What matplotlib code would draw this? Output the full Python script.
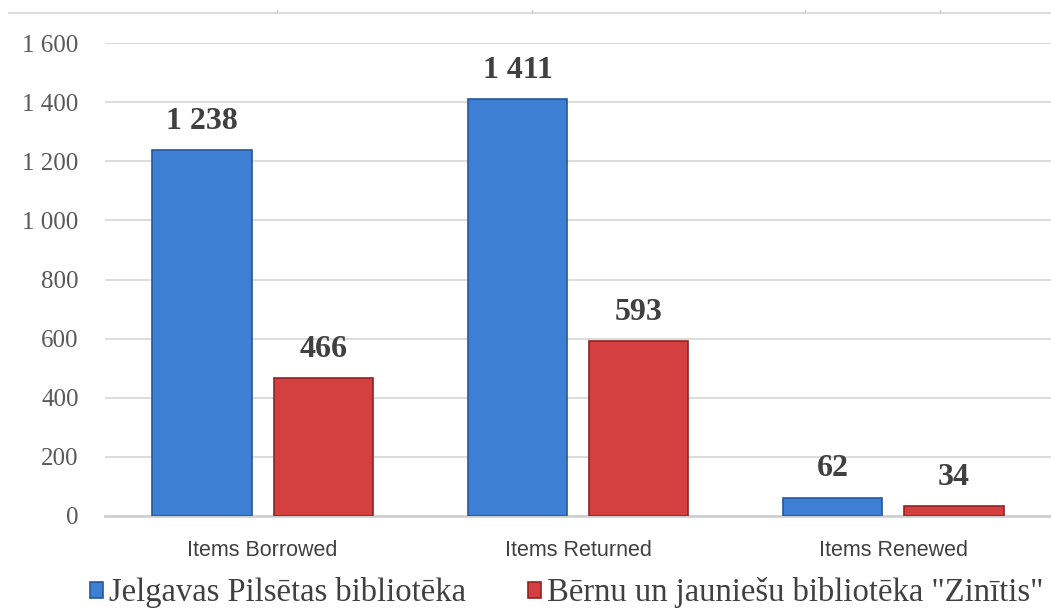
import numpy as np
import matplotlib
matplotlib.use('Agg')
import matplotlib.pyplot as plt
from matplotlib import font_manager

categories = ['Items Borrowed', 'Items Returned', 'Items Renewed']
series = ['Jelgavas Pilsētas bibliotēka', 'Bērnu un jauniešu bibliotēka "Zinītis"']
jelgava = [1238, 1411, 62]
zinitis = [466, 593, 34]
yticks = [0, 200, 400, 600, 800, 1000, 1200, 1400, 1600]


def fmt(v):
    # space as thousands separator
    return '{:,}'.format(v).replace(',', ' ')


names = {f.name for f in font_manager.fontManager.ttflist}
narrow = 'Liberation Sans Narrow' if 'Liberation Sans Narrow' in names else 'Liberation Sans'
serif = 'Liberation Serif'

fig = plt.figure(figsize=(10.51, 6.09), dpi=100)
ax = fig.add_axes([105 / 1051, 93 / 609, 1 - 105 / 1051, 473 / 609])

x = np.arange(len(categories))
w = 0.315
off = 0.192
colors = [('#3d7fd3', '#27589b'), ('#d43f3f', '#8f2424')]
for i, (vals, (fc, ec)) in enumerate(zip([jelgava, zinitis], colors)):
    pos = x + (-off if i == 0 else off)
    bars = ax.bar(pos, vals, w, color=fc, edgecolor=ec, linewidth=1.2,
                  label=series[i], zorder=3)
    for b, v in zip(bars, vals):
        ax.text(b.get_x() + b.get_width() / 2, v + 48, fmt(v), ha='center',
                va='bottom', fontsize=23, fontweight='bold', family=serif,
                color='#404040')

ax.set_xlim(-0.5, 2.5)
ax.set_ylim(0, 1600)
ax.set_yticks(yticks)
ax.set_yticklabels([fmt(t) for t in yticks], family=serif, fontsize=18,
                   color='#595959')
ax.set_xticks(x)
ax.set_xticklabels(categories, family=narrow, fontsize=15.5, color='#404040')
ax.tick_params(length=0)
ax.tick_params(axis='y', pad=19)
ax.tick_params(axis='x', pad=17)
ax.grid(axis='y', color='#d9d9d9', linewidth=1.3, zorder=0)
for s in ['top', 'right', 'left']:
    ax.spines[s].set_visible(False)
ax.spines['bottom'].set_color('#d0d0d0')
ax.spines['bottom'].set_linewidth(2)

# frame line at the top of the picture
fig.add_artist(plt.Line2D([9 / 1051, 1], [1 - 13 / 609] * 2, color='#dcdcdc', lw=1.5))
for tx in [277, 532, 805, 940]:
    fig.add_artist(plt.Line2D([tx / 1051] * 2, [1 - 13 / 609, 1 - 10 / 609],
                              color='#d0d0d0', lw=1))

leg = fig.legend(loc='center', bbox_to_anchor=(567 / 1051, 1 - 593 / 609), ncol=2,
                 frameon=False, prop={'family': serif, 'size': 23.5},
                 handlelength=0.38, handleheight=0.38, handletextpad=0.2,
                 columnspacing=1.9, labelcolor='#404040', borderpad=0)

fig.savefig('out.png', dpi=100)
